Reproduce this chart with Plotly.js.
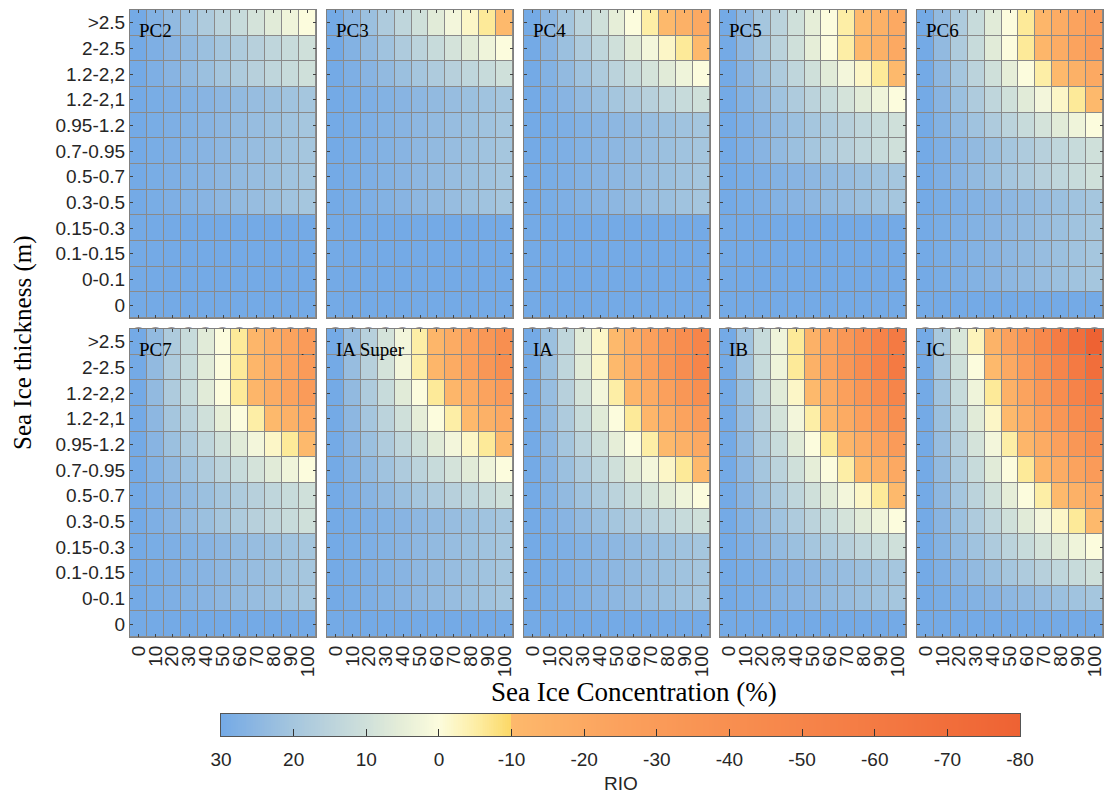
<!DOCTYPE html>
<html>
<head>
<meta charset="utf-8">
<script src="https://cdn.plot.ly/plotly-3.0.1.min.js"></script>
<style>html,body{margin:0;padding:0;background:#fff;}#chart{width:1105px;height:796px;}</style>
</head>
<body>
<div id="chart"></div>
<script>
// ---- data ----
const concentration = [0, 10, 20, 30, 40, 50, 60, 70, 80, 90, 100];
const thickness = ["0", "0-0.1", "0.1-0.15", "0.15-0.3", "0.3-0.5", "0.5-0.7", "0.7-0.95", "0.95-1.2", "1.2-2,1", "1.2-2,2", "2-2.5", ">2.5"];
const panelNames = ["PC2", "PC3", "PC4", "PC5", "PC6", "PC7", "IA Super", "IA", "IB", "IC"];

// RIO rows (value at each concentration), named by the ice-type risk level of the row
const rowP3 = [30, 30, 30, 30, 30, 30, 30, 30, 30, 30, 30];
const rowP2 = [30, 29, 28, 27, 26, 25, 24, 23, 22, 21, 20];
const rowP1 = [30, 28, 26, 24, 22, 20, 18, 16, 14, 12, 10];
const rowZ0 = [30, 27, 24, 21, 18, 15, 12, 9, 6, 3, 0];
const rowM1 = [30, 26, 22, 18, 14, 10, 6, 2, -2, -6, -10];
const rowM2 = [30, 25, 20, 15, 10, 5, 0, -5, -10, -15, -20];
const rowM3 = [30, 24, 18, 12, 6, 0, -6, -12, -18, -24, -30];
const rowM4 = [30, 23, 16, 9, 2, -5, -12, -19, -26, -33, -40];
const rowM5 = [30, 22, 14, 6, -2, -10, -18, -26, -34, -42, -50];
const rowM6 = [30, 21, 12, 3, -6, -15, -24, -33, -42, -51, -60];
const rowM7 = [30, 20, 10, 0, -10, -20, -30, -40, -50, -60, -70];
const rowM8 = [30, 19, 8, -3, -14, -25, -36, -47, -58, -69, -80];

// each panel: rows from thickness "0" (bottom) to ">2.5" (top)
const rioPC2 = [rowP3, rowP3, rowP3, rowP3, rowP2, rowP2, rowP2, rowP2, rowP2, rowP1, rowP1, rowZ0];
const rioPC3 = [rowP3, rowP3, rowP3, rowP3, rowP2, rowP2, rowP2, rowP2, rowP2, rowP1, rowZ0, rowM1];
const rioPC4 = [rowP3, rowP3, rowP3, rowP3, rowP2, rowP2, rowP2, rowP2, rowP1, rowZ0, rowM1, rowM2];
const rioPC5 = [rowP3, rowP3, rowP3, rowP3, rowP2, rowP2, rowP1, rowP1, rowZ0, rowM1, rowM2, rowM2];
const rioPC6 = [rowP3, rowP2, rowP2, rowP2, rowP2, rowP1, rowP1, rowZ0, rowM1, rowM2, rowM3, rowM3];
const rioPC7 = [rowP3, rowP2, rowP2, rowP2, rowP1, rowP1, rowZ0, rowM1, rowM2, rowM3, rowM3, rowM3];
const rioIASuper = [rowP3, rowP2, rowP2, rowP2, rowP2, rowP1, rowZ0, rowM1, rowM2, rowM3, rowM4, rowM4];
const rioIA = [rowP3, rowP2, rowP2, rowP2, rowP1, rowZ0, rowM1, rowM2, rowM3, rowM4, rowM5, rowM5];
const rioIB = [rowP3, rowP2, rowP2, rowP1, rowZ0, rowM1, rowM2, rowM3, rowM4, rowM5, rowM6, rowM6];
const rioIC = [rowP3, rowP2, rowP1, rowZ0, rowM1, rowM2, rowM3, rowM4, rowM5, rowM6, rowM7, rowM8];
const panelData = [rioPC2, rioPC3, rioPC4, rioPC5, rioPC6, rioPC7, rioIASuper, rioIA, rioIB, rioIC];

const colorbarTicks = [30, 20, 10, 0, -10, -20, -30, -40, -50, -60, -70, -80];

// ---- style ----
const zMin = -80, zMax = 30;
const colorStops = [
  [-80, '#ee6233'], [-60, '#f47a43'], [-40, '#f88f50'], [-25, '#fba15d'], [-10, '#fdb96c'],
  [-9.99, '#fcd866'], [-5, '#fdeea6'], [0, '#fcfcdd'], [5, '#e6eed8'], [10, '#cfe0da'],
  [15, '#bbd3dc'], [20, '#a5c6de'], [25, '#8db7e1'], [30, '#74aae6']
];
const colorscale = colorStops.map(s => [(s[0] - zMin) / (zMax - zMin), s[1]]);

const W = 1105, H = 796;
const colLeft = [130, 327, 524, 720, 917];
const panelW = 186;
const rowTop = [10, 329];
const panelH = 308;

const tickFont = {family: 'Liberation Sans, Arial, sans-serif', size: 19, color: '#262626'};
const serif = 'Liberation Serif, Times New Roman, serif';

const traces = [];
const layout = {
  width: W, height: H,
  margin: {l: 0, r: 0, t: 0, b: 0},
  paper_bgcolor: '#ffffff',
  plot_bgcolor: '#8a8a8a',
  showlegend: false,
  annotations: []
};

panelData.forEach((z, i) => {
  const n = i + 1;
  const xa = n === 1 ? 'x' : 'x' + n;
  const ya = n === 1 ? 'y' : 'y' + n;
  const r = Math.floor(i / 5), c = i % 5;
  traces.push({
    type: 'heatmap',
    x: concentration,
    y: thickness,
    z: z,
    xaxis: xa, yaxis: ya,
    zmin: zMin, zmax: zMax,
    colorscale: colorscale,
    showscale: false,
    xgap: 1, ygap: 1,
    hoverinfo: 'skip'
  });
  const x0 = colLeft[c], y0 = rowTop[r];
  layout['xaxis' + (n === 1 ? '' : n)] = {
    domain: [x0 / W, (x0 + panelW) / W],
    anchor: ya,
    range: [-5, 105],
    tickvals: concentration,
    ticktext: concentration.map(String),
    tickangle: -90,
    ticks: 'inside', ticklen: 3, tickcolor: '#444',
    showline: true, mirror: 'ticks', linecolor: '#808080', linewidth: 1,
    showgrid: false, zeroline: false,
    tickfont: tickFont,
    fixedrange: true
  };
  layout['yaxis' + (n === 1 ? '' : n)] = {
    domain: [1 - (y0 + panelH) / H, 1 - y0 / H],
    anchor: xa,
    type: 'category',
    categoryorder: 'array', categoryarray: thickness,
    range: [-0.5, 11.5],
    ticks: 'inside', ticklen: 3, tickcolor: '#444',
    showline: true, mirror: 'ticks', linecolor: '#808080', linewidth: 1,
    showgrid: false, zeroline: false,
    showticklabels: c === 0,
    tickfont: tickFont,
    fixedrange: true
  };
  layout.annotations.push({
    xref: xa + ' domain', yref: ya + ' domain',
    x: 0.04, y: 0.975, xanchor: 'left', yanchor: 'top',
    text: panelNames[i], showarrow: false,
    font: {family: serif, size: 19, color: '#000'}
  });
});

// colour bar drawn as a ramp on its own reversed axis
const rampX = [];
for (let v = zMin; v <= zMax + 1e-9; v += 0.25) rampX.push(v);
traces.push({
  type: 'heatmap',
  x: rampX, y: [0], z: [rampX],
  xaxis: 'x11', yaxis: 'y11',
  zmin: zMin, zmax: zMax, colorscale: colorscale, showscale: false,
  hoverinfo: 'skip'
});
layout.xaxis11 = {
  domain: [221 / W, 1020 / W], anchor: 'y11',
  range: [zMax, zMin],
  tickvals: colorbarTicks, ticktext: colorbarTicks.map(String),
  ticks: 'inside', ticklen: 7, tickcolor: '#333',
  ticklabelstandoff: 6,
  showline: true, mirror: true, linecolor: '#555', linewidth: 1,
  showgrid: false, zeroline: false,
  tickfont: {family: 'Liberation Sans, Arial, sans-serif', size: 19, color: '#262626'},
  fixedrange: true
};
layout.yaxis11 = {
  domain: [1 - 736 / H, 1 - 714 / H], anchor: 'x11',
  range: [-0.5, 0.5],
  showticklabels: false, ticks: '',
  showline: true, mirror: true, linecolor: '#555', linewidth: 1,
  showgrid: false, zeroline: false, fixedrange: true
};

layout.annotations.push({
  xref: 'paper', yref: 'paper', x: 634 / W, y: 1 - 692 / H,
  xanchor: 'center', yanchor: 'middle', showarrow: false,
  text: 'Sea Ice Concentration (%)',
  font: {family: serif, size: 27, color: '#000'}
});
layout.annotations.push({
  xref: 'paper', yref: 'paper', x: 23 / W, y: 1 - 343 / H,
  xanchor: 'center', yanchor: 'middle', showarrow: false, textangle: -90,
  text: 'Sea Ice thickness (m)',
  font: {family: serif, size: 25, color: '#000'}
});
layout.annotations.push({
  xref: 'paper', yref: 'paper', x: 621 / W, y: 1 - 783 / H,
  xanchor: 'center', yanchor: 'middle', showarrow: false,
  text: 'RIO',
  font: {family: 'Liberation Sans, Arial, sans-serif', size: 19, color: '#262626'}
});

Plotly.newPlot('chart', traces, layout, {displayModeBar: false, staticPlot: true});
</script>
</body>
</html>
